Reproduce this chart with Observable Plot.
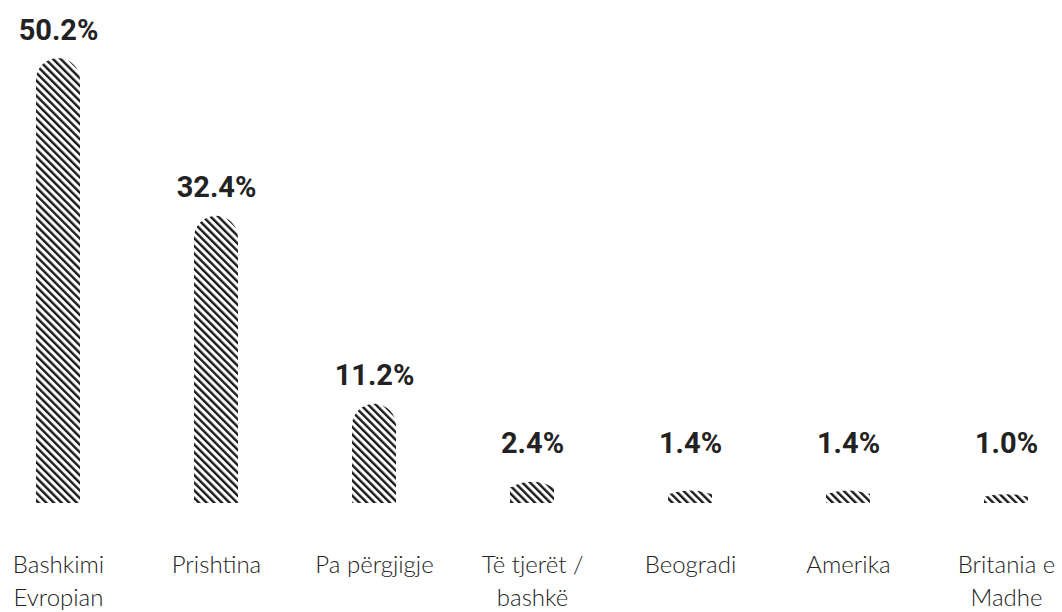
<!DOCTYPE html>
<html>
<head>
<meta charset="utf-8">
<script src="https://cdn.jsdelivr.net/npm/d3@7"></script>
<script src="https://cdn.jsdelivr.net/npm/@observablehq/plot@0.6"></script>
<style>
  html, body { margin: 0; padding: 0; background: #fff; }
  #chart svg { display: block; }
</style>
</head>
<body>
<div id="chart"></div>
<script>
const categories = ["Bashkimi Evropian", "Prishtina", "Pa përgjigje", "Të tjerët / bashkë", "Beogradi", "Amerika", "Britania e Madhe"];
const tickLabels = ["Bashkimi\nEvropian", "Prishtina", "Pa përgjigje", "Të tjerët /\nbashkë", "Beogradi", "Amerika", "Britania e\nMadhe"];
const values = [50.2, 32.4, 11.2, 2.4, 1.4, 1.4, 1.0];
const valueLabels = ["50.2%", "32.4%", "11.2%", "2.4%", "1.4%", "1.4%", "1.0%"];

const data = categories.map((c, i) => ({cat: c, value: values[i], label: valueLabels[i], tick: tickLabels[i]}));

const chart = Plot.plot({
  width: 1062,
  height: 612,
  marginTop: 0, marginBottom: 0, marginLeft: 0, marginRight: 0,
  style: {background: "#fff"},
  x: {domain: categories, range: [33, 1031], paddingInner: 0.723, paddingOuter: 0, axis: null},
  y: {domain: [0, 50.2], range: [503, 58], axis: null},
  marks: [
    Plot.barY(data, {x: "cat", y: "value", fill: "url(#hatch)", rx: 22}),
    Plot.barY(data, {x: "cat", y1: 0, y2: d => d.value > 5 ? d.value / 2 : d.value * 0.75, fill: "url(#hatch)"}),
    Plot.text(data, {x: "cat", y: d => Math.max(d.value, 3.5), text: "label", lineAnchor: "bottom", dy: -19,
      fontSize: 29, fontWeight: 700, fill: "#222", fontFamily: "Roboto, sans-serif"}),
    Plot.text(data, {x: "cat", y: 0, text: "tick", lineAnchor: "top", dy: 46, lineHeight: 1.375,
      fontSize: 24, fontWeight: 300, fill: "#222", fontFamily: "Lato, sans-serif"})
  ]
});

const ns = "http://www.w3.org/2000/svg";
const defs = document.createElementNS(ns, "defs");
const pat = document.createElementNS(ns, "pattern");
pat.setAttribute("id", "hatch");
pat.setAttribute("patternUnits", "userSpaceOnUse");
pat.setAttribute("width", "5.4");
pat.setAttribute("height", "10");
pat.setAttribute("patternTransform", "rotate(-45)");
const bg = document.createElementNS(ns, "rect");
bg.setAttribute("width", "5.4"); bg.setAttribute("height", "10"); bg.setAttribute("fill", "#fff");
const ln = document.createElementNS(ns, "rect");
ln.setAttribute("x", "0"); ln.setAttribute("y", "0"); ln.setAttribute("width", "2.4"); ln.setAttribute("height", "10"); ln.setAttribute("fill", "#1a1a1a");
pat.appendChild(bg); pat.appendChild(ln);
defs.appendChild(pat);
chart.insertBefore(defs, chart.firstChild);

document.getElementById("chart").appendChild(chart);
</script>
</body>
</html>
